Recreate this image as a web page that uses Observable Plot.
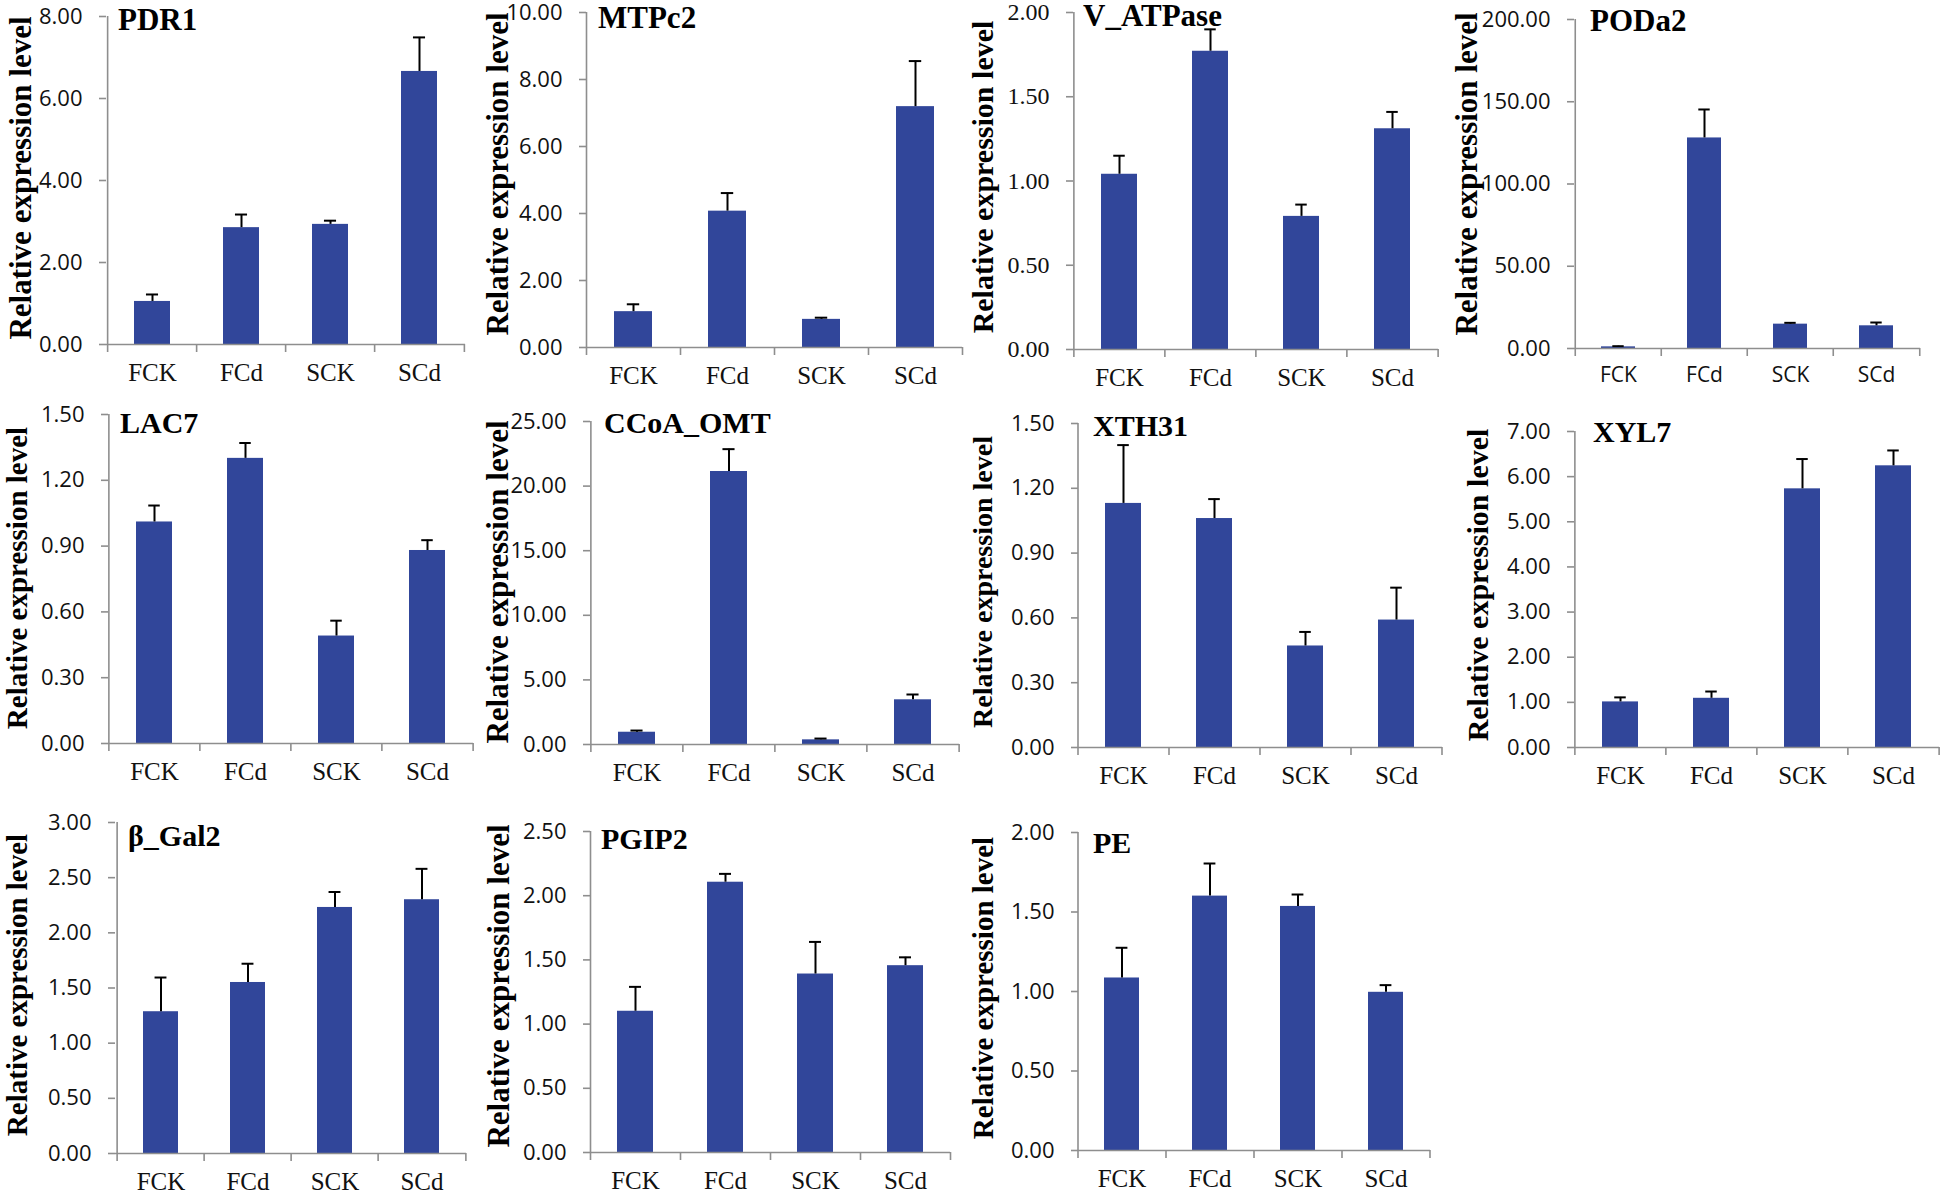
<!DOCTYPE html>
<html><head><meta charset="utf-8">
<script src="https://cdn.jsdelivr.net/npm/d3@7"></script>
<script src="https://cdn.jsdelivr.net/npm/@observablehq/plot@0.6"></script>
<style>
body{margin:0;background:#fff;}
#root{position:relative;width:1946px;height:1196px;overflow:hidden;background:#fff;}
.ylab{position:absolute;white-space:nowrap;font-family:"Liberation Serif","Times New Roman",serif;font-weight:bold;line-height:1;transform:translate(-50%,-50%) rotate(-90deg);color:#000;}
.title{position:absolute;white-space:nowrap;font-family:"Liberation Serif","Times New Roman",serif;font-weight:bold;line-height:1;color:#000;}
</style></head><body><div id="root"></div>
<script>
// ---- data ----
const categories = ["FCK", "FCd", "SCK", "SCd"];
const genes = ["PDR1", "MTPc2", "V_ATPase", "PODa2", "LAC7", "CCoA_OMT", "XTH31", "XYL7", "β_Gal2", "PGIP2", "PE"];
const yLabel = "Relative expression level";

const pdr1Mean = [1.05, 2.85, 2.93, 6.66];
const pdr1Err  = [0.17, 0.32, 0.09, 0.83];
const mtpc2Mean = [1.07, 4.07, 0.84, 7.19];
const mtpc2Err  = [0.22, 0.54, 0.05, 1.36];
const vatpaseMean = [1.04, 1.77, 0.79, 1.31];
const vatpaseErr  = [0.11, 0.13, 0.07, 0.10];
const poda2Mean = [1.0, 128.0, 14.8, 13.8];
const poda2Err  = [0.4, 17.3, 0.8, 2.0];
const lac7Mean = [1.01, 1.30, 0.49, 0.88];
const lac7Err  = [0.075, 0.07, 0.07, 0.047];
const ccoaMean = [0.95, 21.13, 0.36, 3.46];
const ccoaErr  = [0.13, 1.73, 0.10, 0.41];
const xth31Mean = [1.13, 1.06, 0.47, 0.59];
const xth31Err  = [0.27, 0.09, 0.065, 0.15];
const xyl7Mean = [1.01, 1.09, 5.73, 6.24];
const xyl7Err  = [0.10, 0.15, 0.66, 0.34];
const gal2Mean = [1.285, 1.55, 2.23, 2.30];
const gal2Err  = [0.31, 0.17, 0.14, 0.28];
const pgip2Mean = [1.10, 2.105, 1.39, 1.455];
const pgip2Err  = [0.19, 0.065, 0.25, 0.065];
const peMean = [1.085, 1.60, 1.535, 0.995];
const peErr  = [0.19, 0.205, 0.075, 0.045];

const pdr1Ticks = [0, 2, 4, 6, 8];
const mtpc2Ticks = [0, 2, 4, 6, 8, 10];
const vatpaseTicks = [0, 0.5, 1, 1.5, 2];
const poda2Ticks = [0, 50, 100, 150, 200];
const lac7Ticks = [0, 0.3, 0.6, 0.9, 1.2, 1.5];
const ccoaTicks = [0, 5, 10, 15, 20, 25];
const xth31Ticks = [0, 0.3, 0.6, 0.9, 1.2, 1.5];
const xyl7Ticks = [0, 1, 2, 3, 4, 5, 6, 7];
const gal2Ticks = [0, 0.5, 1, 1.5, 2, 2.5, 3];
const pgip2Ticks = [0, 0.5, 1, 1.5, 2, 2.5];
const peTicks = [0, 0.5, 1, 1.5, 2];

const means = [pdr1Mean, mtpc2Mean, vatpaseMean, poda2Mean, lac7Mean, ccoaMean, xth31Mean, xyl7Mean, gal2Mean, pgip2Mean, peMean];
const errs = [pdr1Err, mtpc2Err, vatpaseErr, poda2Err, lac7Err, ccoaErr, xth31Err, xyl7Err, gal2Err, pgip2Err, peErr];
const tickSets = [pdr1Ticks, mtpc2Ticks, vatpaseTicks, poda2Ticks, lac7Ticks, ccoaTicks, xth31Ticks, xyl7Ticks, gal2Ticks, pgip2Ticks, peTicks];

// ---- layout (pixel frame of each panel) ----
const layout = [
  {L:106, R:465, T:16, B:344, lx:20, ly:178, ls:31, tx:118, tb:30, ts:31},
  {L:586, R:962, T:12, B:347, lx:497, ly:174, ls:31, tx:598, tb:28, ts:31},
  {L:1073, R:1438, T:12, B:349, lx:983, ly:177, ls:30, tx:1083, tb:26, ts:31, serifTicks:true},
  {L:1574, R:1920, T:19, B:348, lx:1466, ly:174, ls:31, tx:1590, tb:31, ts:31, sansCats:true},
  {L:108, R:473, T:414, B:743, lx:17, ly:578, ls:29, tx:120, tb:433, ts:30},
  {L:590, R:959, T:421, B:744, lx:497, ly:582, ls:31, tx:604, tb:433, ts:30},
  {L:1078, R:1442, T:423, B:747, lx:983, ly:582, ls:28, tx:1093, tb:436, ts:30},
  {L:1574, R:1939, T:431, B:747, lx:1478, ly:585, ls:30, tx:1593, tb:442, ts:30},
  {L:115, R:466, T:822, B:1153, lx:17, ly:985, ls:29, tx:128, tb:846, ts:30},
  {L:590, R:950, T:831, B:1152, lx:498, ly:986, ls:31, tx:601, tb:849, ts:30},
  {L:1078, R:1430, T:832, B:1150, lx:983, ly:988, ls:29, tx:1093, tb:853, ts:30}
];

const SERIF = '"Liberation Serif", "Times New Roman", serif';
const SANS = '"Open Sans", "Liberation Sans", sans-serif';
const BAR = "#31469a";
const AXIS = "#8e8e8e";

const root = document.getElementById("root");

genes.forEach((gene, i) => {
  const g = layout[i];
  const ticks = tickSets[i];
  const rows = categories.map((c, k) => ({cat: c, v: means[i][k], e: errs[i][k]}));
  const ML = 120, MR = 12, MT = 16, MB = 56;
  const pw = g.R - g.L, ph = g.B - g.T;
  const step = pw / 4, bw = step * 0.4;
  const capInset = Math.max(0, (bw - 12) / 2);
  const svg = Plot.plot({
    width: pw + ML + MR, height: ph + MT + MB,
    marginLeft: ML, marginRight: MR, marginTop: MT, marginBottom: MB,
    style: {background: "transparent", overflow: "visible"},
    x: {type: "band", domain: categories, paddingInner: 0.6, paddingOuter: 0.3},
    y: {domain: [0, ticks[ticks.length - 1]]},
    marks: [
      Plot.barY(rows, {x: "cat", y: "v", fill: BAR}),
      Plot.ruleX(rows, {x: "cat", y1: "v", y2: d => d.v + d.e, stroke: "#000", strokeWidth: 2}),
      Plot.tickY(rows, {x: "cat", y: d => d.v + d.e, stroke: "#000", strokeWidth: 2, insetLeft: capInset, insetRight: capInset}),
      Plot.ruleY([0], {stroke: AXIS, strokeWidth: 1.6}),
      Plot.ruleX([categories[0]], {x: d => d, dx: -step / 2, stroke: AXIS, strokeWidth: 1.6}),
      Plot.ruleX(categories, {x: d => d, y1: () => 0, y2: () => 0, dx: -step / 2, insetBottom: -8, stroke: AXIS, strokeWidth: 1.6}),
      Plot.ruleX([categories[3]], {x: d => d, y1: () => 0, y2: () => 0, dx: step / 2, insetBottom: -8, stroke: AXIS, strokeWidth: 1.6}),
      Plot.axisY({ticks, tickFormat: d3.format(".2f"), tickSize: 7, tickPadding: 17, stroke: AXIS, strokeWidth: 1.6,
        fill: "#111", fontSize: g.serifTicks ? 24 : 22, fontFamily: g.serifTicks ? SERIF : SANS, label: null}),
      Plot.axisX({tickSize: 0, tickPadding: 19, fill: "#111", fontSize: g.sansCats ? 21 : 25,
        fontFamily: g.sansCats ? SANS : SERIF, label: null})
    ]
  });
  svg.style.position = "absolute";
  svg.style.left = (g.L - ML) + "px";
  svg.style.top = (g.T - MT) + "px";
  root.appendChild(svg);

  const yl = document.createElement("div");
  yl.className = "ylab";
  yl.textContent = yLabel;
  yl.style.fontSize = g.ls + "px";
  yl.style.left = g.lx + "px";
  yl.style.top = g.ly + "px";
  root.appendChild(yl);

  const t = document.createElement("div");
  t.className = "title";
  t.textContent = gene;
  t.style.fontSize = g.ts + "px";
  t.style.left = g.tx + "px";
  t.style.top = (g.tb - 0.8375 * g.ts) + "px";
  root.appendChild(t);
});
</script>
</body></html>
